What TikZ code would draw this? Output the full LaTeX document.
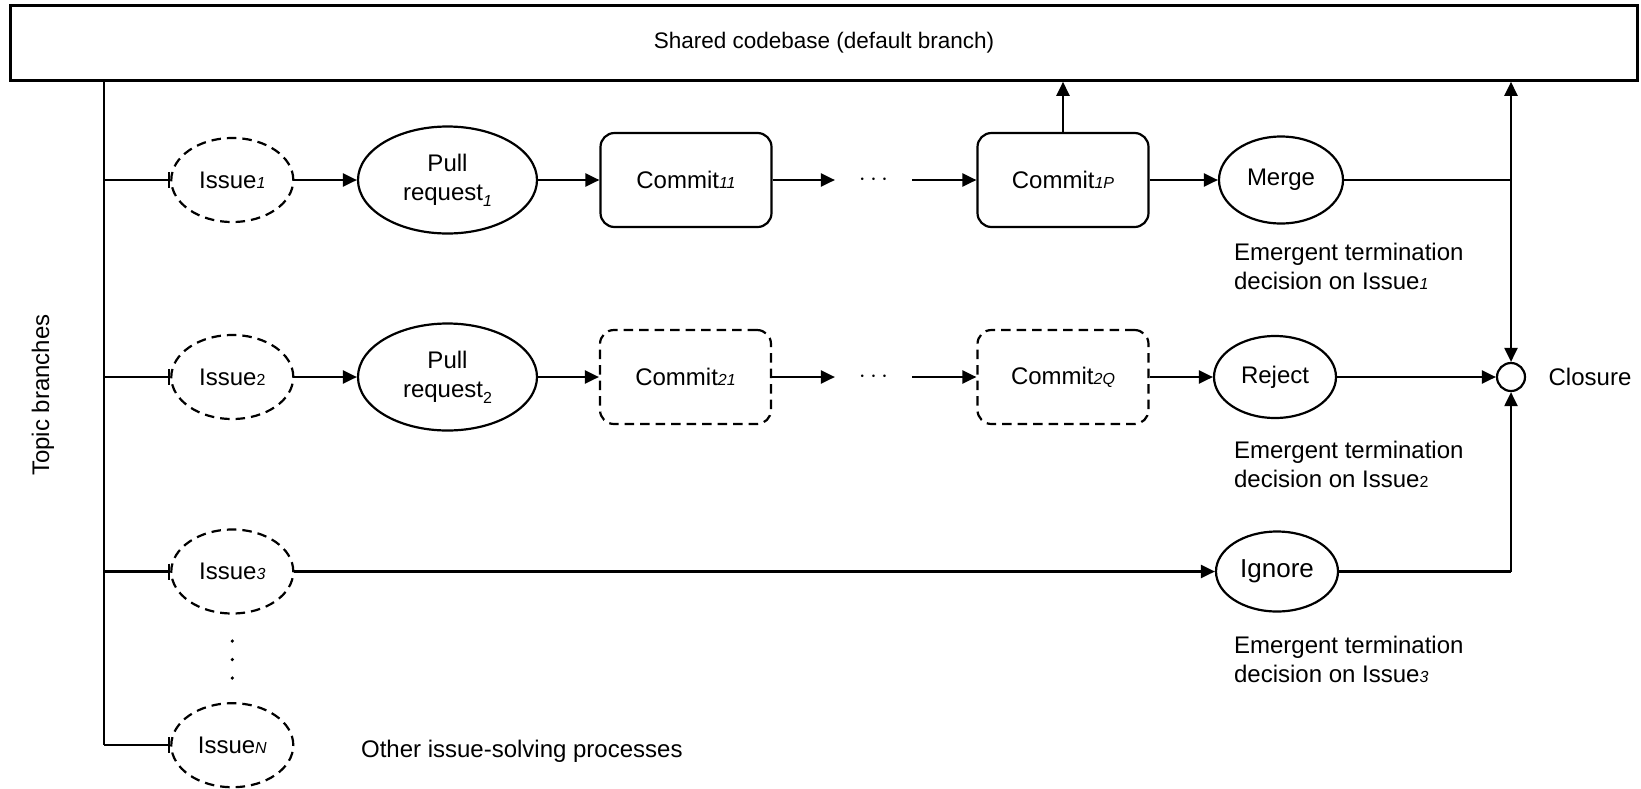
\documentclass[tikz,border=0pt]{standalone}
\usepackage{fontspec}
\setmainfont{Liberation Sans}
\usetikzlibrary{shapes.geometric,arrows.meta}
\newcommand{\sbi}[1]{{\fontsize{16}{16}\selectfont\itshape #1}}
\newcommand{\sbu}[1]{{\fontsize{16}{16}\selectfont #1}}
\newcommand{\sbl}[1]{\raisebox{-6pt}{\fontsize{16}{16}\selectfont #1}}
\begin{document}
\begin{tikzpicture}[x=1pt,y=-1pt,line width=2.2pt,
  every node/.style={font=\fontsize{24}{29}\selectfont,inner sep=0pt},
  dsh/.style={dash pattern=on 9.5pt off 6pt},
  issue/.style={ellipse,draw,dsh,minimum width=122pt,minimum height=84pt},
  pr/.style={ellipse,draw,minimum width=179pt,minimum height=107pt,align=center},
  commit/.style={rectangle,draw,rounded corners=14pt,minimum width=171pt,minimum height=94pt},
  dcommit/.style={commit,dsh},
  decision/.style={ellipse,draw,minimum width=122pt,minimum height=84pt},
  dots/.style={minimum width=75pt,minimum height=20pt},
  note/.style={align=left,anchor=west},
  conn/.style={-{Triangle[length=14pt,width=13pt]}},
  tick/.style={-{Bar[width=16pt]}}]
\useasboundingbox (0,0) rectangle (1641,788);

% shared codebase
\node[draw,line width=2.6pt,minimum width=1627pt,minimum height=75pt,font=\fontsize{22.5}{27}\selectfont] (base) at (824,43) {Shared codebase (default branch)};

% left bar
\coordinate (bartop) at (103.6,80.6);
\coordinate (barbot) at (103.6,745.2);
\coordinate (b1) at (103.6,180);
\coordinate (b2) at (103.6,377);
\coordinate (b3) at (103.6,571.5);
\node[rotate=90] (topic) at (43,395) {Topic branches};

% row 1
\node[issue] (i1) at (232.3,180) {Issue\sbi{1}};
\node[pr] (pr1) at (447.5,180) {Pull\\request\sbl{\itshape 1}};
\node[commit] (c11) at (686,180) {Commit\sbi{11}};
\node[dots] (d1) at (873.5,180) {$\cdots$};
\node[commit] (c1p) at (1063,180) {Commit\sbi{1P}};
\node[decision,minimum width=124pt,minimum height=87pt] (merge) at (1281,180) {Merge};
\node[note] (e1) at (1233,266.7) {Emergent termination\\decision on Issue\sbi{1}};

% row 2
\node[issue] (i2) at (232.3,377) {Issue\sbu{2}};
\node[pr] (pr2) at (447.5,377) {Pull\\request\sbl{2}};
\node[dcommit] (c21) at (685.5,377) {Commit\sbi{21}};
\node[dots] (d2) at (873.5,377) {$\cdots$};
\node[dcommit] (c2q) at (1063,377) {Commit\sbi{2Q}};
\node[decision,minimum height=82pt] (reject) at (1275,377) {Reject};
\node[note] (e2) at (1233,464.5) {Emergent termination\\decision on Issue\sbu{2}};

% row 3
\node[issue] (i3) at (232.3,571.5) {Issue\sbi{3}};
\node[decision,minimum height=80pt,font=\fontsize{26}{30}\selectfont] (ignore) at (1277,571.5) {Ignore};
\node[note] (e3) at (1233,659) {Emergent termination\\decision on Issue\sbi{3}};

% row N
\node[issue] (in) at (232.3,745.2) {Issue\sbi{N}};
\node[anchor=west] (other) at (360,751) {Other issue-solving processes};
\fill (232.3,641) circle (1.8pt) (232.3,659.5) circle (1.8pt) (232.3,678) circle (1.8pt);

% closure
\node[circle,draw,minimum size=28pt] (cl) at (1511,377) {};
\node (cltext) at (1590,377) {Closure};
\coordinate (bus1) at (1511,180);
\coordinate (bus3) at (1511,571.5);

% connectors
\draw (bartop) -- (barbot);
\draw[tick] (b1) -- (i1.west);
\draw[tick] (b2) -- (i2.west);
\draw[tick] (b3) -- (i3.west);
\draw[tick] (barbot) -- (in.west);

\draw[conn] (i1) -- (pr1);
\draw[conn] (pr1) -- (c11);
\draw[conn] (c11) -- (d1.west);
\draw[conn] (d1.east) -- (c1p);
\draw[conn] (c1p) -- (merge);
\draw[conn] (c1p.north) -- (c1p.north |- base.south);
\draw (merge.east) -- (bus1);
\draw[conn] (bus1) -- (bus1 |- base.south);
\draw[conn] (bus1) -- (cl.north);

\draw[conn] (i2) -- (pr2);
\draw[conn] (pr2) -- (c21);
\draw[conn] (c21) -- (d2.west);
\draw[conn] (d2.east) -- (c2q);
\draw[conn] (c2q) -- (reject);
\draw[conn] (reject) -- (cl);

\draw[conn] (i3) -- (ignore);
\draw (ignore.east) -- (bus3);
\draw[conn] (bus3) -- (cl.south);
\end{tikzpicture}
\end{document}
